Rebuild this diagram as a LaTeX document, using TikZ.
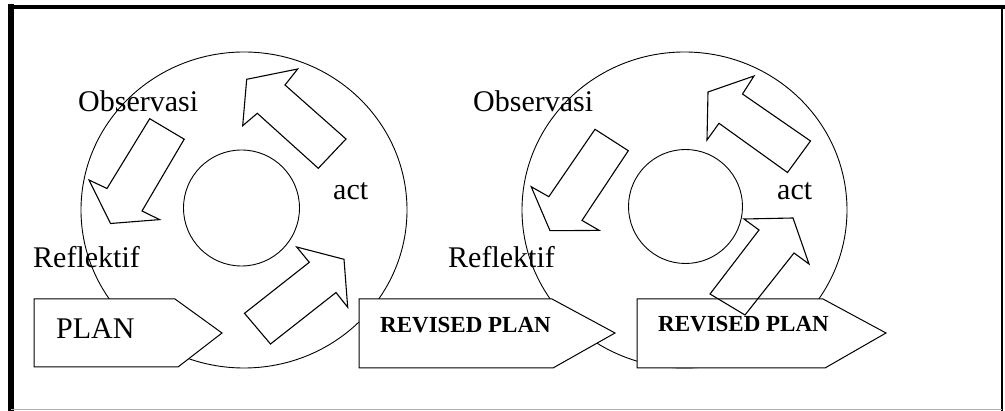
\documentclass[tikz,border=0pt]{standalone}
\usepackage{fontspec}
\setmainfont{Liberation Serif}
\begin{document}
\begin{tikzpicture}[x=1pt,y=-1pt,
  ring/.style={draw=black,line width=0.9pt},
  planbox/.style={draw=black,fill=white,line width=1pt,line join=miter},
  cyclearrow/.style={draw=black,line width=1.1pt,line join=miter},
  lbl/.style={inner sep=0pt,anchor=base west,font=\fontsize{30}{36}\selectfont},
  boldlbl/.style={inner sep=0pt,anchor=base west,font=\fontsize{23}{28}\selectfont\bfseries}]
\useasboundingbox (0,0) rectangle (1005,411);

% page frame
\draw[line width=6pt] (11,4) -- (11,411);
\draw[line width=4pt] (8,7) -- (1005,7);
\draw[line width=2pt] (1002,5) -- (1002,411);
\draw[gray!60,line width=1pt] (11,409.5) -- (1002,409.5);

% the two cycles: outer ring and hub
\draw[ring] (244,210) ellipse [x radius=163pt, y radius=158pt];
\draw[ring] (241.5,208) circle [radius=58pt];
\draw[ring] (684.5,210) ellipse [x radius=162.5pt, y radius=158pt];
\draw[ring] (685.5,206.5) circle [radius=57pt];

% plan boxes (pentagon arrows)
\draw[planbox] (34,299) -- (175,299) -- (222,333) -- (178,367) -- (34,367) -- cycle;
\draw[planbox] (359,299) -- (552,299) -- (615,333) -- (553,368) -- (359,368) -- cycle;
\draw[planbox] (637,299) -- (823,299) -- (886,333) -- (825,368) -- (637,368) -- cycle;

% block arrows of the first cycle
\draw[cyclearrow] (297.7,69) -- (246.7,79.3) -- (242.7,125.7) -- (257.3,113.3)
  -- (318.3,168.3) -- (346,139) -- (285,85) -- cycle;
\draw[cyclearrow] (296.7,247) -- (344,259.3) -- (347.7,307.3) -- (336,292.5)
  -- (270.5,344) -- (244.5,313.3) -- (309.3,262.3) -- cycle;
\draw[cyclearrow] (149.7,118.7) -- (184.2,139.2) -- (142,211) -- (159.6,219.6)
  -- (110.5,223.5) -- (89,180) -- (107,188.5) -- cycle;

% block arrows of the second cycle
\draw[cyclearrow] (754,76) -- (708,92) -- (707,140) -- (719,123.3)
  -- (787.5,172.5) -- (810.5,141) -- (742.5,94) -- cycle;
\draw[cyclearrow] (595,129.3) -- (628.3,150.7) -- (582,220.4) -- (599.2,230.4)
  -- (550,230.7) -- (531.2,186.7) -- (548.8,196.7) -- cycle;
\draw[cyclearrow] (744,219) -- (793,218) -- (809,264) -- (794,253)
  -- (745,315) -- (710,294) -- (759,230) -- cycle;

% labels
\node[lbl] (obs1) at (78,112) {Observasi};
\node[lbl] (ref1) at (33,268) {Reflektif};
\node[lbl] (act1) at (333,200) {act};
\node[lbl] (plan) at (56,339) {PLAN};
\node[boldlbl] (rev1) at (380,333) {REVISED PLAN};
\node[lbl] (obs2) at (473,112) {Observasi};
\node[lbl] (ref2) at (448,268) {Reflektif};
\node[lbl] (act2) at (777,200) {act};
\node[boldlbl] (rev2) at (658,332) {REVISED PLAN};
\end{tikzpicture}
\end{document}
